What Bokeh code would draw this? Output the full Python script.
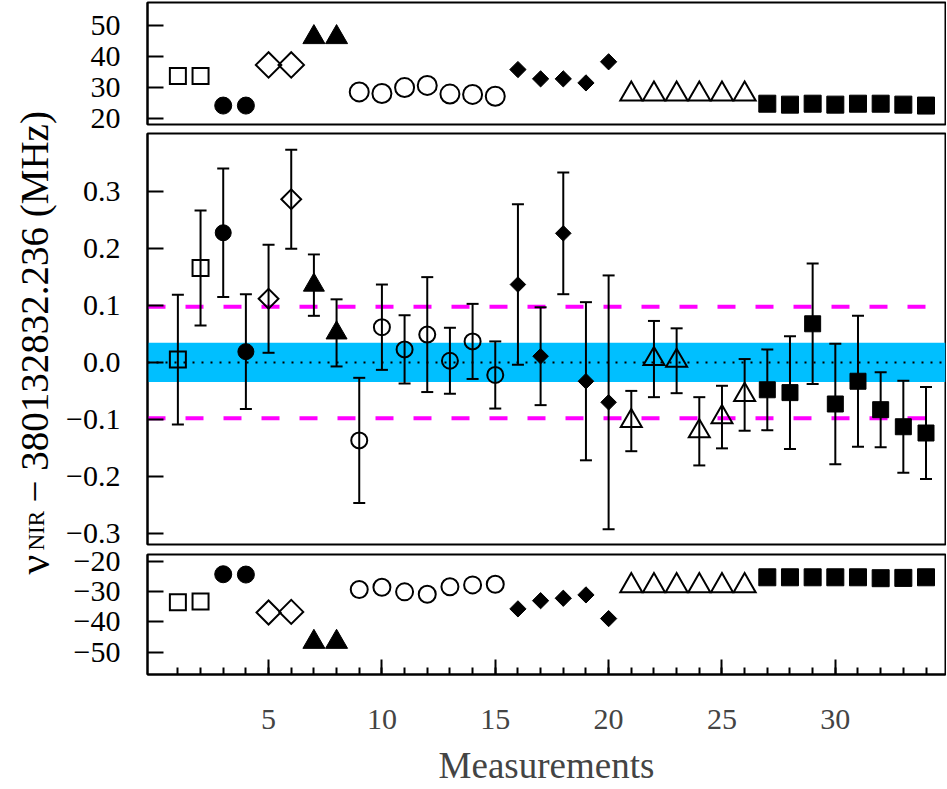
import math
from bokeh.plotting import figure
from bokeh.models import (ColumnDataSource, Range1d, FixedTicker, CustomJSTickFormatter,
                          Whisker, TeeHead, Span, BoxAnnotation)
from bokeh.layouts import column, row
from bokeh.embed import file_html
from bokeh.resources import INLINE
from bokeh.core.properties import value

# ---------------- data ----------------
measurement = list(range(1, 35))
group = (["A"] * 2 + ["B"] * 2 + ["C"] * 2 + ["D"] * 2 + ["E"] * 7 +
         ["F"] * 5 + ["G"] * 6 + ["H"] * 8)

top_offset = [33.8, 33.8, 24.3, 24.3, 37.4, 37.4, 46.3, 46.3,
              28.7, 28.2, 30.1, 30.8, 28.0, 27.9, 27.3,
              35.9, 32.9, 32.9, 31.6, 38.4,
              28.0, 28.0, 28.0, 28.0, 28.0, 28.0,
              24.9, 24.6, 24.9, 24.6, 24.9, 24.9, 24.6, 24.3]

mid_value = [0.005, 0.166, 0.228, 0.019, 0.112, 0.287, 0.136, 0.052,
             -0.137, 0.062, 0.023, 0.049, 0.003, 0.037, -0.022,
             0.137, 0.011, 0.227, -0.033, -0.070,
             -0.103, 0.006, 0.003, -0.121, -0.096, -0.057,
             -0.048, -0.053, 0.068, -0.073, -0.033, -0.083, -0.113, -0.124]
mid_error = [0.114, 0.101, 0.113, 0.101, 0.095, 0.087, 0.054, 0.059,
             0.110, 0.075, 0.060, 0.101, 0.058, 0.066, 0.059,
             0.141, 0.086, 0.107, 0.139, 0.223,
             0.053, 0.067, 0.057, 0.060, 0.055, 0.063,
             0.071, 0.099, 0.106, 0.106, 0.115, 0.066, 0.081, 0.081]

bottom_offset = [-33.5, -33.3, -24.3, -24.4, -36.9, -36.7, -46.6, -46.6,
                 -29.3, -28.6, -30.1, -30.9, -28.4, -27.8, -27.6,
                 -35.7, -33.0, -32.2, -31.1, -38.9,
                 -28.1, -28.1, -28.1, -28.1, -28.1, -28.1,
                 -25.3, -25.3, -25.3, -25.3, -25.3, -25.6, -25.5, -25.3]

band_half = 0.0345
limit = 0.098

mid_ticks = [-0.3, -0.2, -0.1, 0.0, 0.1, 0.2, 0.3]
top_ticks = [20, 30, 40, 50]
bot_ticks = [-50, -40, -30, -20]
x_major = [5, 10, 15, 20, 25, 30]

# ---------------- styles ----------------
styles = {
    "A": dict(marker="square", angle=0.0, filled=False, s_top=16, s_mid=16, s_bot=16),
    "B": dict(marker="circle", angle=0.0, filled=True, s_top=17, s_mid=16, s_bot=17),
    "C": dict(marker="square", angle=math.pi / 4, filled=False, s_top=18, s_mid=14, s_bot=17),
    "D": dict(marker="triangle", angle=0.0, filled=True, s_top=22, s_mid=21, s_bot=22),
    "E": dict(marker="circle", angle=0.0, filled=False, s_top=19, s_mid=16, s_bot=17),
    "F": dict(marker="square", angle=math.pi / 4, filled=True, s_top=11.5, s_mid=11, s_bot=11.5),
    "G": dict(marker="triangle", angle=0.0, filled=False, s_top=22, s_mid=21, s_bot=22),
    "H": dict(marker="square", angle=0.0, filled=True, s_top=17, s_mid=16, s_bot=17),
}

FONT = "Liberation Serif"
LABEL_W = 58
DATA_W = 888
TOTAL_H = 788
xr = Range1d(-0.34, 34.86)

side_fmt = CustomJSTickFormatter(code="return (tick < 0 ? '\u2212' : '') + Math.abs(tick).toFixed(0);")
mid_fmt = CustomJSTickFormatter(code="return (tick < 0 ? '\u2212' : '') + Math.abs(tick).toFixed(1);")


def make_panel(height, yr, ticks, fmt, bt, bb):
    p = figure(width=DATA_W, height=height, x_range=xr, y_range=Range1d(*yr),
               output_backend="svg", toolbar_location=None,
               min_border_left=89, min_border_right=1,
               min_border_top=bt, min_border_bottom=bb)
    p.grid.visible = False
    p.outline_line_color = "black"
    p.outline_line_width = 2
    p.outline_line_alpha = 1
    p.background_fill_color = "white"
    p.border_fill_color = "white"
    ax = p.yaxis[0]
    ax.ticker = FixedTicker(ticks=ticks)
    ax.formatter = fmt
    ax.major_tick_in = 16
    ax.major_tick_out = 0
    ax.major_tick_line_width = 2
    ax.minor_tick_line_color = None
    ax.axis_line_width = 2
    ax.major_label_text_font = FONT
    ax.major_label_text_font_size = "30px"
    ax.major_label_text_color = "black"
    ax.major_label_standoff = 27
    return p


def add_points(p, yvals, key):
    for g, st in styles.items():
        idx = [i for i, gg in enumerate(group) if gg == g]
        src = ColumnDataSource(dict(x=[measurement[i] for i in idx],
                                    y=[yvals[i] for i in idx]))
        p.scatter("x", "y", source=src, marker=st["marker"], size=st[key],
                  angle=st["angle"],
                  fill_color="black" if st["filled"] else None,
                  line_color="black", line_width=1 if st["filled"] else 2,
                  line_join="miter")


# top panel
top = make_panel(128, (18.2, 57.5), top_ticks, side_fmt, 2, 4)
top.xaxis.visible = False
add_points(top, top_offset, "s_top")

# middle panel
mid = make_panel(421, (-0.320, 0.4025), mid_ticks, mid_fmt, 5, 5)
mid.xaxis.visible = False
mid.add_layout(BoxAnnotation(bottom=-band_half, top=band_half, fill_color="#00BFFF",
                             fill_alpha=1, line_color=None, level="underlay"))
mid.add_layout(Span(location=0, dimension="width", line_color="black",
                    line_dash="2 7", line_width=2, level="underlay"))
for loc in (limit, -limit):
    mid.add_layout(Span(location=loc, dimension="width", line_color="#FF00FF",
                        line_dash="18 20", line_width=4, level="underlay"))
err_src = ColumnDataSource(dict(
    x=measurement,
    upper=[v + e for v, e in zip(mid_value, mid_error)],
    lower=[v - e for v, e in zip(mid_value, mid_error)]))
mid.add_layout(Whisker(source=err_src, base="x", upper="upper", lower="lower",
                       line_color="black", line_width=2, level="glyph",
                       upper_head=TeeHead(size=12, line_width=2, line_color="black"),
                       lower_head=TeeHead(size=12, line_width=2, line_color="black")))
add_points(mid, mid_value, "s_mid")

# bottom panel
bot = make_panel(239, (-57.3, -17.8), bot_ticks, side_fmt, 5, 112)
xa = bot.xaxis[0]
xa.ticker = FixedTicker(ticks=x_major, minor_ticks=measurement)
xa.major_tick_in = 15
xa.major_tick_out = 0
xa.minor_tick_in = 7
xa.minor_tick_out = 0
xa.major_tick_line_width = 2
xa.minor_tick_line_width = 2
xa.axis_line_width = 2
xa.major_label_text_font = FONT
xa.major_label_text_font_size = "30px"
xa.major_label_standoff = 35
xa.axis_label = "Measurements"
xa.axis_label_text_font = FONT
xa.axis_label_text_font_size = "37px"
xa.axis_label_text_font_style = "normal"
xa.axis_label_standoff = 13
add_points(bot, bottom_offset, "s_bot")

# y-axis title panel (rotated, with subscript)
lab = figure(width=LABEL_W, height=TOTAL_H, x_range=Range1d(0, LABEL_W),
             y_range=Range1d(0, TOTAL_H), x_axis_type=None, y_axis_type=None,
             min_border=0, toolbar_location=None, output_backend="svg")
lab.grid.visible = False
lab.outline_line_color = None


def py(page_y):
    return TOTAL_H - page_y


lab.text(x=[34], y=[py(574)], text=["ν"], angle=math.pi / 2,
         text_font=value(FONT), text_font_size="44px", text_align="left",
         text_baseline="alphabetic", text_color="black")
lab.text(x=[36], y=[py(550)], text=["NIR"], angle=math.pi / 2,
         text_font=value(FONT), text_font_size="23px", text_align="left",
         text_baseline="alphabetic", text_color="black")
lab.text(x=[34], y=[py(502)], text=["− 380132832.236 (MHz)"], angle=math.pi / 2,
         text_font=value(FONT), text_font_size="39px", text_align="left",
         text_baseline="alphabetic", text_color="black")

layout = row(lab, column(top, mid, bot))
open("out.html", "w").write(file_html(layout, INLINE))
